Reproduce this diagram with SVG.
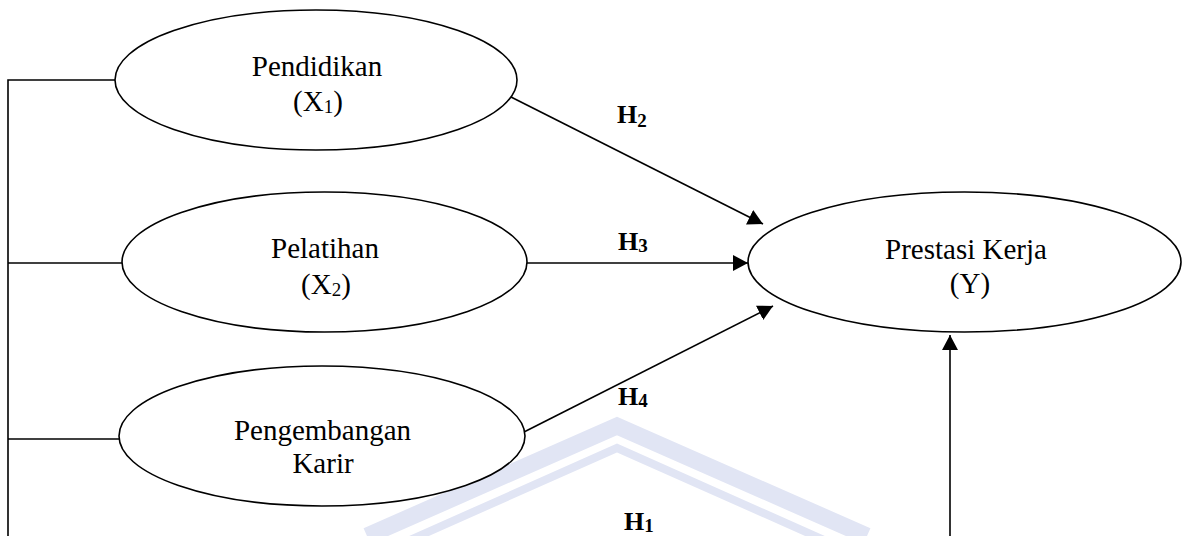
<svg xmlns="http://www.w3.org/2000/svg" width="1183" height="536" viewBox="0 0 1183 536">
<style>
.node{fill:#fff;stroke:#000;stroke-width:1.6}
.lbl{font-family:"Liberation Serif","Times New Roman",serif;font-size:29px;fill:#000;text-anchor:middle}
.h{font-family:"Liberation Serif","Times New Roman",serif;font-size:26px;font-weight:bold;fill:#000}
.sub{font-size:19px}
.ln{fill:none;stroke:#000;stroke-width:1.6}
.wm{fill:none;stroke:#e1e5f4;stroke-linejoin:miter}
</style>
<defs>
<marker id="ah" markerUnits="userSpaceOnUse" markerWidth="16" markerHeight="16" refX="15" refY="8" orient="auto">
<path d="M0,0 L15,8 L0,16 Z" fill="#000"/>
</marker>
</defs>
<rect width="1183" height="536" fill="#fff"/>
<g id="watermark">
<polyline class="wm" stroke-width="17" points="367,536 617,426 867,536"/>
<polyline class="wm" stroke-width="8" points="410,540 617,448 824,540"/>
</g>
<g id="connectors">
<polyline class="ln" points="115,80 8,80 8,536"/>
<line class="ln" x1="8" y1="263" x2="122" y2="263"/>
<line class="ln" x1="8" y1="439" x2="119" y2="439"/>
<line class="ln" x1="511" y1="97" x2="763" y2="224" marker-end="url(#ah)"/>
<line class="ln" x1="527" y1="263" x2="748" y2="263" marker-end="url(#ah)"/>
<line class="ln" x1="524" y1="432" x2="773" y2="306" marker-end="url(#ah)"/>
<line class="ln" x1="950" y1="536" x2="950" y2="335" marker-end="url(#ah)"/>
<text class="h" x="617" y="123">H<tspan class="sub" dy="4">2</tspan></text>
<text class="h" x="618" y="250">H<tspan class="sub" dy="2">3</tspan></text>
<text class="h" x="618" y="405">H<tspan class="sub" dy="2">4</tspan></text>
<text class="h" x="624" y="530">H<tspan class="sub" dy="2">1</tspan></text>
</g>
<g id="pendidikan">
<ellipse class="node" cx="316" cy="80" rx="201" ry="70"/>
<text class="lbl" x="317" y="76">Pendidikan</text>
<text class="lbl" x="318" y="111">(X<tspan class="sub" dy="2">1</tspan><tspan dy="-2">)</tspan></text>
</g>
<g id="pelatihan">
<ellipse class="node" cx="324.5" cy="262" rx="202.5" ry="70"/>
<text class="lbl" x="325" y="258">Pelatihan</text>
<text class="lbl" x="326" y="294">(X<tspan class="sub" dy="2">2</tspan><tspan dy="-2">)</tspan></text>
</g>
<g id="pengembangan">
<ellipse class="node" cx="322" cy="436" rx="203" ry="70"/>
<text class="lbl" x="322.5" y="440">Pengembangan</text>
<text class="lbl" x="323" y="473">Karir</text>
</g>
<g id="prestasi">
<ellipse class="node" cx="964.5" cy="262" rx="216.5" ry="70"/>
<text class="lbl" x="966" y="259">Prestasi Kerja</text>
<text class="lbl" x="970" y="293">(Y)</text>
</g>
</svg>
